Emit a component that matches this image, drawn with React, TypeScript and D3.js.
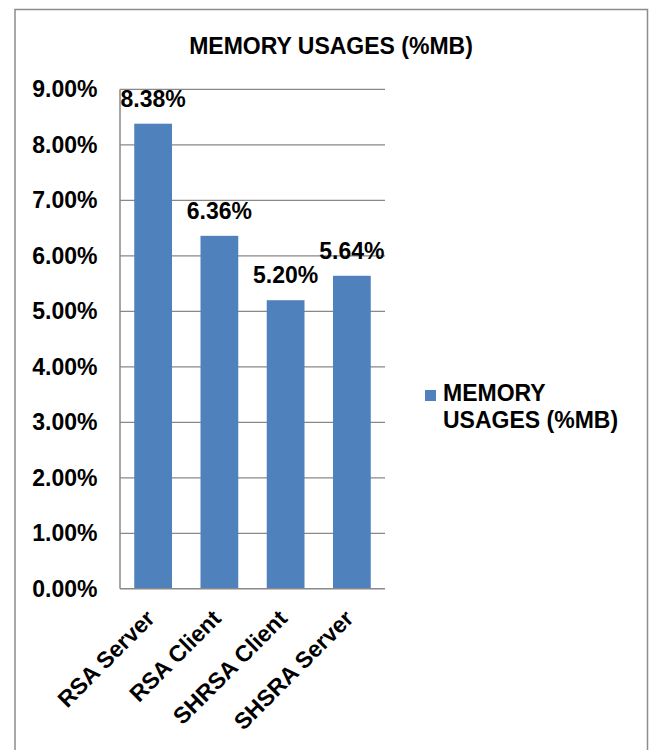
import React from "react";
import * as d3 from "d3";

// Memory usage per scheme, in percent
const categories: string[] = ["RSA Server", "RSA Client", "SHRSA Client", "SHSRA Server"];
const memoryUsage: number[] = [8.38, 6.36, 5.2, 5.64];
const yTicks: number[] = [0, 1, 2, 3, 4, 5, 6, 7, 8, 9];
const chartTitle = "MEMORY USAGES (%MB)";
const legendLines: string[] = ["MEMORY", "USAGES (%MB)"];

const W = 651;
const H = 750;
const FONT = "'Liberation Sans', Arial, Helvetica, sans-serif";
const FS = 23;
const BAR = "#4F81BD";
const GRID = "#888888";

export default function App() {
  const x = d3
    .scaleBand<string>()
    .domain(categories)
    .range([120, 385])
    .paddingInner(0.43)
    .paddingOuter(0.215);
  const y = d3.scaleLinear().domain([0, 9]).range([588.8, 89.3]);
  const pct = (v: number) => d3.format(".2f")(v) + "%";
  const [x0, x1] = x.range();

  return (
    <svg
      width={W}
      height={H}
      style={{ position: "absolute", left: 0, top: 0, background: "#fff" }}
      fontFamily={FONT}
      fontWeight="bold"
    >
      {/* chart area frame */}
      <rect x={15} y={9.5} width={632.5} height={800} fill="#fff" stroke="#8c8c8c" strokeWidth={1.5} />

      <text x={331} y={53.5} textAnchor="middle" fontSize={FS} fill="#000">
        {chartTitle}
      </text>

      {/* gridlines */}
      {yTicks.slice(1).map((t) => (
        <line key={t} x1={x0} x2={x1} y1={y(t)} y2={y(t)} stroke={GRID} strokeWidth={1.2} />
      ))}

      {/* y tick labels */}
      {yTicks.map((t) => (
        <text key={t} x={97.5} y={y(t) + 7.8} textAnchor="end" fontSize={FS} fill="#000">
          {pct(t)}
        </text>
      ))}

      {/* bars */}
      {memoryUsage.map((v, i) => (
        <rect
          key={categories[i]}
          x={x(categories[i])}
          y={y(v)}
          width={x.bandwidth()}
          height={y(0) - y(v)}
          fill={BAR}
        />
      ))}

      {/* axes */}
      <line x1={x0} x2={x0} y1={y(9)} y2={y(0)} stroke={GRID} strokeWidth={1.5} />
      <line x1={x0} x2={x1} y1={y(0)} y2={y(0)} stroke={GRID} strokeWidth={1.5} />

      {/* value labels */}
      {memoryUsage.map((v, i) => (
        <text
          key={categories[i]}
          x={(x(categories[i]) as number) + x.bandwidth() / 2}
          y={y(v) - 17}
          textAnchor="middle"
          fontSize={FS}
          fill="#000"
        >
          {pct(v)}
        </text>
      ))}

      {/* category labels */}
      {categories.map((c) => {
        const cx = (x(c) as number) + x.bandwidth() / 2 + 3;
        const cy = y(0) + 31;
        return (
          <text
            key={c}
            x={cx}
            y={cy}
            textAnchor="end"
            fontSize={FS}
            fill="#000"
            transform={`rotate(-45 ${cx} ${cy})`}
          >
            {c}
          </text>
        );
      })}

      {/* legend */}
      <rect x={425} y={390} width={11} height={11} fill={BAR} />
      {legendLines.map((l, i) => (
        <text key={l} x={443} y={401 + i * 26.5} fontSize={FS} fill="#000">
          {l}
        </text>
      ))}
    </svg>
  );
}
